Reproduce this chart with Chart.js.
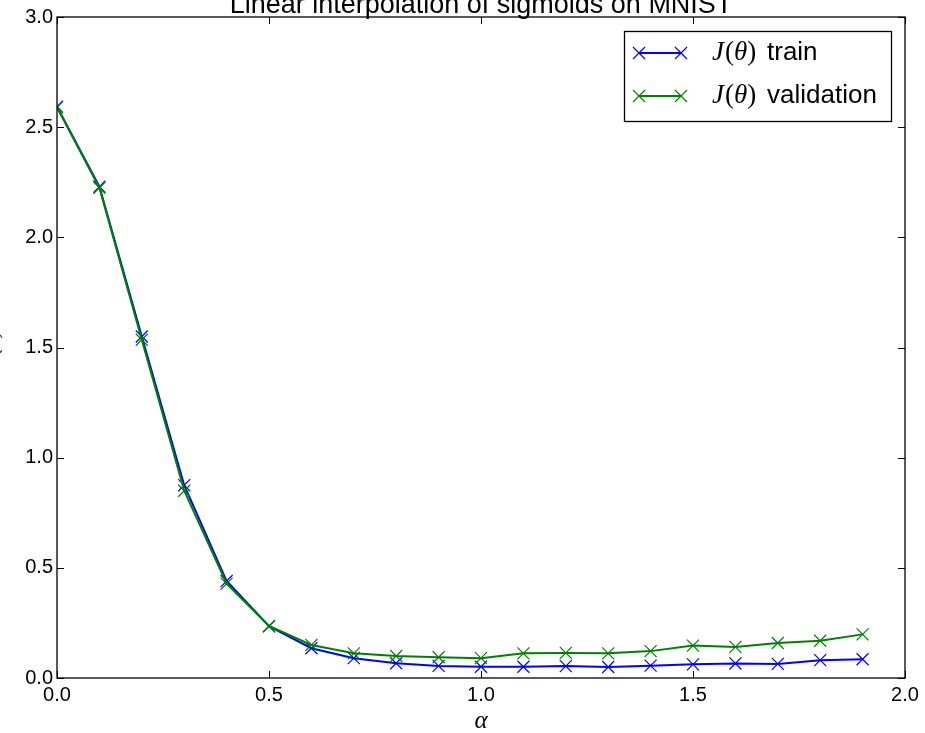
<!DOCTYPE html>
<html>
<head>
<meta charset="utf-8">
<script src="https://cdn.jsdelivr.net/npm/chart.js@4/dist/chart.umd.min.js"></script>
<style>
  html, body { margin: 0; padding: 0; background: #fff; }
  canvas { display: block; }
</style>
</head>
<body>
<canvas id="interp-chart" width="925" height="733"></canvas>
<script>
// interpolation coefficient
const alpha = [0.0, 0.1, 0.2, 0.3, 0.4, 0.5, 0.6, 0.7, 0.8, 0.9,
  1.0, 1.1, 1.2, 1.3, 1.4, 1.5, 1.6, 1.7, 1.8, 1.9];

// J(theta) on train / validation
const trainLoss = [2.593, 2.23, 1.55, 0.875, 0.44, 0.235, 0.135, 0.09, 0.067, 0.055,
  0.051, 0.051, 0.054, 0.05, 0.056, 0.062, 0.066, 0.064, 0.081, 0.085];
const validLoss = [2.59, 2.225, 1.535, 0.85, 0.428, 0.236, 0.15, 0.112, 0.1, 0.094,
  0.09, 0.112, 0.114, 0.112, 0.122, 0.147, 0.141, 0.159, 0.169, 0.198];

const xTicks = [0.0, 0.5, 1.0, 1.5, 2.0];
const yTicks = [0.0, 0.5, 1.0, 1.5, 2.0, 2.5, 3.0];

const seriesNames = ["train", "validation"];
const seriesColors = ["#0000ff", "#008000"];

const sansFont = "'Liberation Sans', Arial, sans-serif";
const serifFont = "'Liberation Serif', 'DejaVu Serif', serif";

function toPoints(values) {
  return alpha.map((a, i) => ({ x: a, y: values[i] }));
}

// draws the matplotlib-style frame, inward ticks, title, labels and legend
const decorations = {
  id: "decorations",
  afterDraw(chart) {
    const ctx = chart.ctx;
    const area = chart.chartArea;
    const xs = chart.scales.x;
    const ys = chart.scales.y;
    ctx.save();

    // frame
    ctx.strokeStyle = "#000";
    ctx.lineWidth = 1.3;
    ctx.strokeRect(area.left, area.top, area.right - area.left, area.bottom - area.top);

    // inward ticks on all four sides
    const tickLen = 7;
    ctx.lineWidth = 1;
    ctx.beginPath();
    xTicks.forEach((v) => {
      const px = Math.round(xs.getPixelForValue(v)) + 0.5;
      ctx.moveTo(px, area.bottom);
      ctx.lineTo(px, area.bottom - tickLen);
      ctx.moveTo(px, area.top);
      ctx.lineTo(px, area.top + tickLen);
    });
    yTicks.forEach((v) => {
      const py = Math.round(ys.getPixelForValue(v)) + 0.5;
      ctx.moveTo(area.left, py);
      ctx.lineTo(area.left + tickLen, py);
      ctx.moveTo(area.right, py);
      ctx.lineTo(area.right - tickLen, py);
    });
    ctx.stroke();

    // title (cut off at the top of the image)
    const midX = (area.left + area.right) / 2;
    ctx.fillStyle = "#000";
    ctx.font = "27px " + sansFont;
    ctx.textAlign = "center";
    ctx.textBaseline = "alphabetic";
    ctx.fillText("Linear interpolation of sigmoids on MNIST", midX, 13);

    // x axis label
    ctx.font = "italic 25px " + serifFont;
    ctx.fillText("α", midX, 728);

    // y axis label (mostly outside the image)
    ctx.save();
    ctx.translate(-2, (area.top + area.bottom) / 2);
    ctx.rotate(-Math.PI / 2);
    ctx.font = "italic 22px " + serifFont;
    ctx.textAlign = "center";
    ctx.fillText("J(θ)", 0, 0);
    ctx.restore();

    // legend
    const box = { x: 624.5, y: 31.5, w: 267, h: 90 };
    ctx.fillStyle = "#fff";
    ctx.fillRect(box.x, box.y, box.w, box.h);
    ctx.strokeStyle = "#000";
    ctx.lineWidth = 1.3;
    ctx.strokeRect(box.x, box.y, box.w, box.h);

    const rowY = [53, 96];
    seriesNames.forEach((name, i) => {
      const y = rowY[i];
      const color = seriesColors[i];
      ctx.strokeStyle = color;
      ctx.lineWidth = 2;
      ctx.beginPath();
      ctx.moveTo(639, y);
      ctx.lineTo(681, y);
      ctx.stroke();
      ctx.lineWidth = 1.2;
      [639, 681].forEach((cx) => {
        const r = 6;
        ctx.beginPath();
        ctx.moveTo(cx - r, y - r);
        ctx.lineTo(cx + r, y + r);
        ctx.moveTo(cx - r, y + r);
        ctx.lineTo(cx + r, y - r);
        ctx.stroke();
      });

      // J(θ) in math style, then the plain label
      ctx.fillStyle = "#000";
      ctx.textAlign = "left";
      ctx.textBaseline = "middle";
      let tx = 712;
      const parts = [
        ["italic 27px " + serifFont, "J"],
        ["27px " + serifFont, "("],
        ["italic 27px " + serifFont, "θ"],
        ["27px " + serifFont, ")"],
      ];
      parts.forEach(([font, text]) => {
        ctx.font = font;
        ctx.fillText(text, tx, y);
        tx += ctx.measureText(text).width + (text === "J" ? 1 : 0);
      });
      ctx.font = "26px " + sansFont;
      ctx.fillText(name, Math.max(tx + 9, 767), y);
    });

    ctx.restore();
  },
};

const canvas = document.getElementById("interp-chart").getContext("2d");

// validation drawn over train, as in the original
const datasets = [trainLoss, validLoss].map((values, i) => ({
  label: "J(θ) " + seriesNames[i],
  data: toPoints(values),
  order: 1 - i,
  borderColor: seriesColors[i],
  backgroundColor: seriesColors[i],
  borderWidth: 2,
  pointStyle: "crossRot",
  pointRadius: 8.5,
  pointHoverRadius: 8.5,
  pointBorderWidth: 1.2,
  pointBorderColor: seriesColors[i],
  tension: 0,
}));

new Chart(canvas, {
  type: "line",
  data: { datasets },
  options: {
    responsive: false,
    animation: false,
    events: [],
    layout: { padding: { top: 17, right: 20, left: 0, bottom: 0 } },
    plugins: {
      legend: { display: false },
      tooltip: { enabled: false },
      title: { display: false },
    },
    scales: {
      x: {
        type: "linear",
        min: 0,
        max: 2,
        afterBuildTicks: (scale) => {
          scale.ticks = xTicks.map((v) => ({ value: v }));
        },
        afterFit: (scale) => {
          scale.height = 55;
        },
        grid: { display: false, drawTicks: false },
        border: { display: false },
        ticks: {
          color: "#000",
          font: { family: sansFont, size: 20 },
          padding: 5,
          maxRotation: 0,
          callback: (v) => Number(v).toFixed(1),
        },
      },
      y: {
        type: "linear",
        min: 0,
        max: 3,
        afterBuildTicks: (scale) => {
          scale.ticks = yTicks.map((v) => ({ value: v }));
        },
        afterFit: (scale) => {
          scale.width = 57;
        },
        grid: { display: false, drawTicks: false },
        border: { display: false },
        ticks: {
          color: "#000",
          font: { family: sansFont, size: 20 },
          padding: 4,
          callback: (v) => Number(v).toFixed(1),
        },
      },
    },
  },
  plugins: [decorations],
});
</script>
</body>
</html>
